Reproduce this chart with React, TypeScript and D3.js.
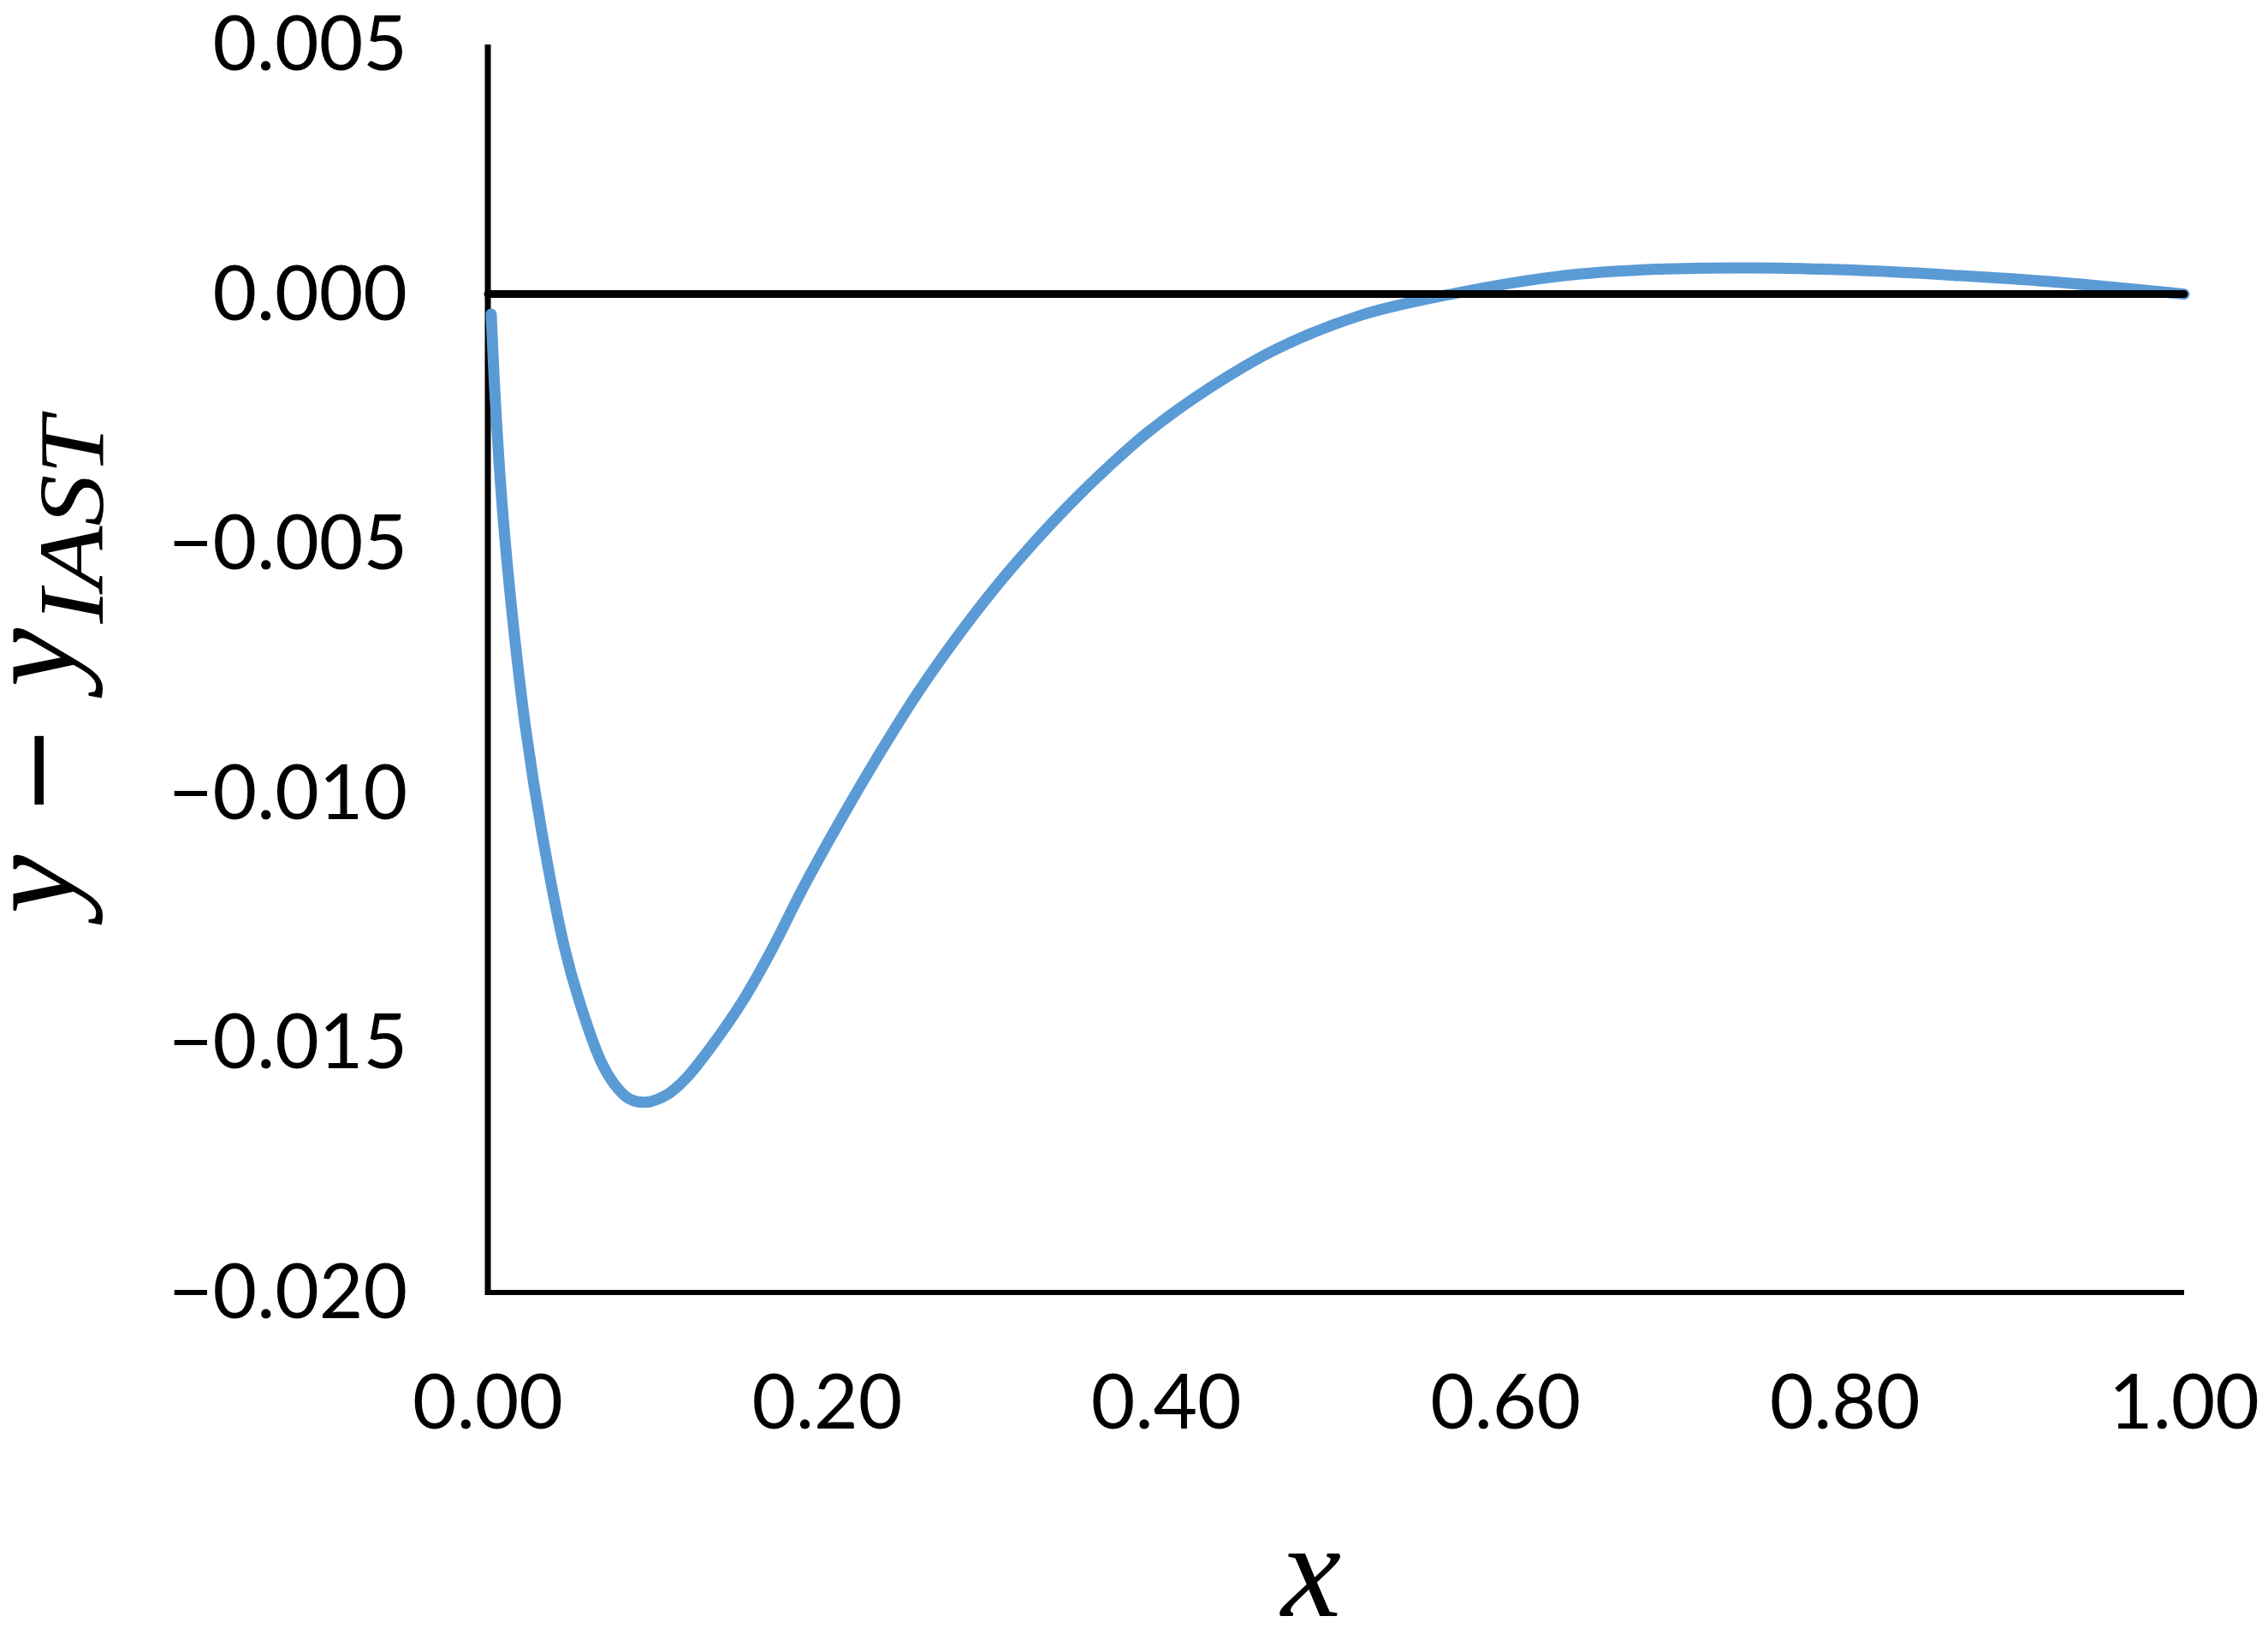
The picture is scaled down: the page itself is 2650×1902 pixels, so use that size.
import React from "react";
import * as d3 from "d3";

const xValues = [0.002, 0.0044, 0.0086, 0.0146, 0.0222, 0.0323, 0.0449, 0.0538, 0.0664, 0.074, 0.0824, 0.0925, 0.105, 0.116, 0.1329, 0.1497, 0.1665, 0.1864, 0.2089, 0.2314, 0.2538, 0.2764, 0.2989, 0.3214, 0.344, 0.3665, 0.389, 0.4246, 0.465, 0.515, 0.5694, 0.631, 0.689, 0.747, 0.805, 0.8627, 0.921, 1.0];
const diffValues = [-0.0004, -0.00212, -0.0043, -0.00649, -0.00868, -0.01087, -0.01305, -0.01415, -0.01535, -0.0158, -0.0161, -0.01619, -0.01605, -0.01574, -0.01502, -0.01419, -0.01319, -0.01186, -0.01048, -0.00918, -0.00797, -0.00688, -0.00589, -0.0050, -0.00418, -0.00344, -0.00277, -0.0019, -0.0011, -0.00042, 0.00001, 0.000355, 0.000497, 0.000526, 0.00048, 0.00038, 0.00025, 0.0];
const zeroX = [0, 1];
const zeroY = [0, 0];
const xTicks = [0, 0.2, 0.4, 0.6, 0.8, 1.0];
const xTickLabels = ["0.00", "0.20", "0.40", "0.60", "0.80", "1.00"];
const yTicks = [0.005, 0, -0.005, -0.01, -0.015, -0.02];
const yTickLabels = ["0.005", "0.000", "\u22120.005", "\u22120.010", "\u22120.015", "\u22120.020"];

export default function App() {
  const W = 2650, H = 1902;
  const x = d3.scaleLinear().domain([0, 1]).range([570, 2552]);
  const y = d3.scaleLinear().domain([-0.02, 0.005]).range([1510, 52]);

  const line = d3.line<number>()
    .x((_, i) => x(xValues[i]))
    .y((_, i) => y(diffValues[i]))
    .curve(d3.curveCatmullRom.alpha(0.5));
  const zeroLine = d3.line<number>()
    .x((_, i) => x(zeroX[i]))
    .y((_, i) => y(zeroY[i]));

  const tickFont = "Lato, 'Open Sans', sans-serif";
  const mathFont = "'Liberation Serif', 'DejaVu Serif', serif";

  return (
    <svg width={W} height={H} style={{ position: "absolute", left: 0, top: 0, background: "#fff" }}>
      <rect x={0} y={0} width={W} height={H} fill="#fff" />
      {/* axes */}
      <line x1={x(0)} y1={y(0.005)} x2={x(0)} y2={y(-0.02) + 3} stroke="#000" strokeWidth={7} />
      <line x1={x(0) - 3} y1={y(-0.02)} x2={x(1)} y2={y(-0.02)} stroke="#000" strokeWidth={6} />
      {/* data */}
      <path d={line(xValues) || ""} fill="none" stroke="#5B9BD5" strokeWidth={13} strokeLinecap="round" strokeLinejoin="round" />
      <path d={zeroLine(zeroX) || ""} fill="none" stroke="#000" strokeWidth={9} strokeLinecap="round" />
      {/* y tick labels */}
      {yTicks.map((t, i) => (
        <text key={"y" + i} x={476} y={y(t) + 30} textAnchor="end" fontFamily={tickFont} fontSize={89} fill="#000">
          {yTickLabels[i]}
        </text>
      ))}
      {/* x tick labels */}
      {xTicks.map((t, i) => (
        <text key={"x" + i} x={x(t)} y={1669} textAnchor="middle" fontFamily={tickFont} fontSize={89} fill="#000">
          {xTickLabels[i]}
        </text>
      ))}
      {/* x title */}
      <text x={1532} y={1888} textAnchor="middle" fontFamily={mathFont} fontStyle="italic" fontSize={158} fill="#000">x</text>
      {/* y title */}
      <g transform="translate(87,0) rotate(-90)">
        <text x={-1033} y={0} textAnchor="middle" fontFamily={mathFont} fontStyle="italic" fontSize={155} fill="#000">y</text>
        <text x={-900} y={-1} textAnchor="middle" fontFamily="'DejaVu Sans', sans-serif" fontSize={128} fill="#000">{"\u2212"}</text>
        <text x={-768} y={0} textAnchor="middle" fontFamily={mathFont} fontStyle="italic" fontSize={155} fill="#000">y</text>
        <text x={-608} y={33} textAnchor="middle" fontFamily={mathFont} fontStyle="italic" fontSize={109} fill="#000" textLength={241} lengthAdjust="spacingAndGlyphs">IAST</text>
      </g>
    </svg>
  );
}
